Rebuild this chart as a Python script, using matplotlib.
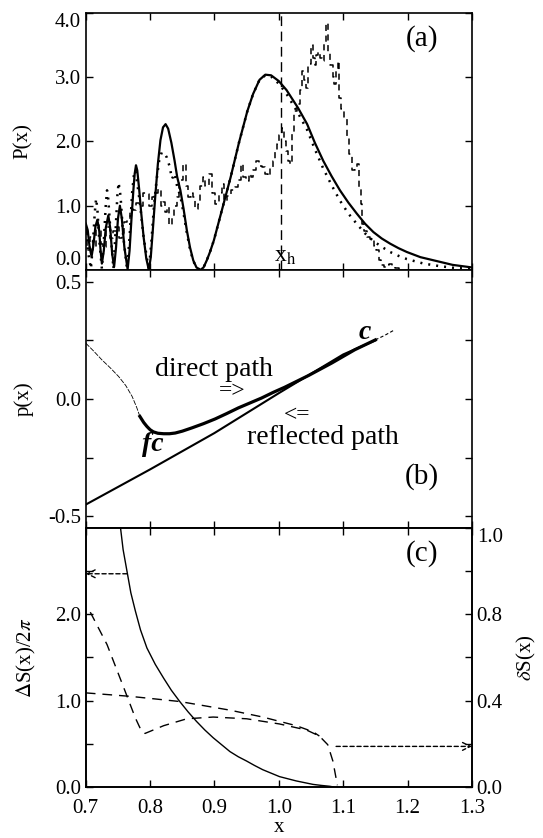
import matplotlib
matplotlib.use("Agg")
import matplotlib.pyplot as plt
from matplotlib.ticker import FixedLocator, FixedFormatter

plt.rcParams['font.family'] = ['Liberation Serif', 'DejaVu Serif']
plt.rcParams['mathtext.fontset'] = 'stix'
plt.rcParams['axes.unicode_minus'] = False

# ---- panel (a): P(x) ----
pa_solid_x = [0.700, 0.703, 0.706, 0.709, 0.712, 0.715, 0.718, 0.721, 0.723, 0.725,
              0.728, 0.731, 0.735, 0.738, 0.741, 0.744, 0.747, 0.750, 0.753, 0.756,
              0.760, 0.765, 0.768, 0.771, 0.774, 0.776, 0.778, 0.780, 0.783, 0.786,
              0.790, 0.794, 0.798, 0.801, 0.804, 0.808, 0.812, 0.816, 0.820, 0.824,
              0.828, 0.833, 0.838, 0.842, 0.847, 0.852, 0.857, 0.862, 0.867, 0.872,
              0.878, 0.883, 0.888, 0.893, 0.899, 0.912, 0.925, 0.938, 0.951, 0.960,
              0.970, 0.979, 0.988, 1.000, 1.012, 1.030, 1.044, 1.056, 1.069, 1.082,
              1.095, 1.108, 1.121, 1.134, 1.147, 1.160, 1.173, 1.186, 1.199, 1.220,
              1.245, 1.270, 1.300]
pa_solid_y = [0.72, 0.62, 0.35, 0.21, 0.40, 0.68, 0.78, 0.60, 0.30, 0.10,
              0.30, 0.65, 0.85, 0.65, 0.25, 0.05, 0.35, 0.80, 1.00, 0.80,
              0.35, 0.01, 0.30, 0.80, 1.25, 1.50, 1.63, 1.55, 1.25, 0.90,
              0.50, 0.18, 0.00, 0.20, 0.60, 1.15, 1.65, 2.02, 2.22, 2.27,
              2.20, 1.98, 1.70, 1.45, 1.24, 0.95, 0.62, 0.35, 0.15, 0.04,
              0.00, 0.04, 0.15, 0.28, 0.46, 0.95, 1.44, 1.98, 2.47, 2.74,
              2.96, 3.04, 3.03, 2.94, 2.80, 2.52, 2.27, 1.98, 1.70, 1.46,
              1.24, 1.05, 0.88, 0.72, 0.59, 0.49, 0.41, 0.34, 0.28, 0.20,
              0.14, 0.08, 0.04]

pa_dot_x = [0.700, 0.704, 0.708, 0.711, 0.714, 0.716, 0.718, 0.721, 0.725, 0.728,
            0.731, 0.733, 0.735, 0.739, 0.743, 0.746, 0.749, 0.751, 0.754, 0.758,
            0.764, 0.768, 0.772, 0.775, 0.777, 0.780, 0.784, 0.790, 0.798, 0.802,
            0.806, 0.810, 0.814, 0.818, 0.822, 0.826, 0.830, 0.834, 0.838, 0.842,
            0.847, 0.852, 0.857, 0.862, 0.867, 0.872, 0.878, 0.883, 0.888, 0.893,
            0.899, 0.912, 0.925, 0.938, 0.951, 0.960, 0.970, 0.979, 0.988, 1.000,
            1.012, 1.030, 1.044, 1.056, 1.069, 1.082, 1.095, 1.108, 1.121, 1.134,
            1.147, 1.160, 1.173, 1.186, 1.199, 1.225, 1.250, 1.275, 1.300]
pa_dot_y = [0.60, 0.25, 0.02, 0.40, 0.90, 1.11, 0.95, 0.45, 0.02, 0.45,
            1.00, 1.24, 1.10, 0.50, 0.02, 0.55, 1.15, 1.36, 1.15, 0.55,
            0.02, 0.50, 1.20, 1.50, 1.55, 1.35, 1.05, 0.50, 0.00, 0.45,
            1.00, 1.40, 1.70, 1.83, 1.82, 1.75, 1.62, 1.42, 1.50, 1.30,
            1.15, 0.88, 0.58, 0.32, 0.14, 0.04, 0.00, 0.04, 0.15, 0.28,
            0.46, 0.95, 1.44, 1.98, 2.47, 2.74, 2.96, 3.03, 3.01, 2.90,
            2.74, 2.44, 2.18, 1.88, 1.58, 1.32, 1.08, 0.88, 0.72, 0.57,
            0.45, 0.36, 0.28, 0.22, 0.17, 0.10, 0.06, 0.03, 0.02]

pa_hist_x = [0.700, 0.704, 0.709, 0.714, 0.718, 0.722, 0.726, 0.729, 0.735, 0.740,
             0.746, 0.750, 0.754, 0.758, 0.762, 0.766, 0.771, 0.776, 0.781, 0.786,
             0.791, 0.797, 0.801, 0.804, 0.809, 0.815, 0.818, 0.822, 0.825, 0.828,
             0.832, 0.835, 0.839, 0.843, 0.848, 0.853, 0.857, 0.861, 0.865, 0.868,
             0.872, 0.876, 0.880, 0.883, 0.888, 0.894, 0.899, 0.904, 0.909, 0.914,
             0.917, 0.922, 0.928, 0.935, 0.939, 0.943, 0.947, 0.951, 0.955, 0.958,
             0.962, 0.966, 0.971, 0.977, 0.981, 0.985, 0.989, 0.993, 0.996, 0.999,
             1.003, 1.007, 1.010, 1.013, 1.016, 1.018, 1.022, 1.026, 1.031, 1.035,
             1.038, 1.041, 1.044, 1.048, 1.051, 1.054, 1.057, 1.060, 1.062, 1.066,
             1.069, 1.072, 1.075, 1.078, 1.082, 1.085, 1.087, 1.090, 1.093, 1.095,
             1.099, 1.103, 1.108, 1.111, 1.116, 1.120, 1.124, 1.126, 1.129, 1.131,
             1.135, 1.139, 1.143, 1.147, 1.150, 1.153, 1.157, 1.161, 1.165, 1.169,
             1.173, 1.178, 1.183, 1.190]
pa_hist_y = [0.62, 0.31, 0.52, 0.36, 0.70, 0.62, 0.40, 0.36, 0.67, 0.50,
             0.60, 0.67, 0.50, 0.57, 0.75, 0.80, 0.95, 0.93, 1.05, 1.00,
             1.20, 1.19, 1.00, 1.13, 1.20, 1.26, 1.00, 1.06, 0.90, 0.98,
             0.70, 0.82, 1.00, 1.13, 1.40, 1.65, 1.30, 1.13, 1.20, 1.13,
             0.95, 1.03, 1.30, 1.44, 1.30, 1.49, 1.20, 1.03, 1.20, 1.34,
             1.08, 1.15, 1.25, 1.29, 1.40, 1.65, 1.45, 1.39, 1.50, 1.44,
             1.55, 1.70, 1.62, 1.60, 1.50, 1.47, 1.60, 1.70, 1.85, 1.96,
             2.10, 2.21, 2.00, 1.85, 1.70, 1.65, 2.11, 2.47, 2.58, 2.80,
             3.09, 2.95, 2.83, 3.20, 3.50, 3.30, 3.19, 3.35, 3.40, 3.30,
             3.25, 3.55, 3.85, 3.40, 3.19, 3.00, 2.89, 3.10, 3.25, 2.68,
             2.50, 2.37, 2.06, 1.80, 1.55, 1.60, 1.65, 1.29, 1.03, 0.72,
             0.60, 0.51, 0.48, 0.46, 0.38, 0.31, 0.15, 0.08, 0.05, 0.08,
             0.10, 0.05, 0.03, 0.00]

x_h = 1.004

# ---- panel (b): p(x) ----
pb_direct_thin_x = [0.700, 0.712, 0.725, 0.738, 0.751, 0.762, 0.772, 0.779, 0.784]
pb_direct_thin_y = [0.238, 0.205, 0.167, 0.133, 0.096, 0.058, 0.011, -0.035, -0.074]
pb_direct_x = [0.784, 0.790, 0.795, 0.800, 0.805, 0.812, 0.821, 0.830, 0.839, 0.850,
               0.865, 0.883, 0.901, 0.919, 0.937, 0.955, 0.973, 0.991, 1.009, 1.046,
               1.082, 1.118, 1.150]
pb_direct_y = [-0.074, -0.100, -0.117, -0.131, -0.140, -0.146, -0.148, -0.148, -0.145, -0.137,
               -0.123, -0.105, -0.085, -0.062, -0.038, -0.017, 0.004, 0.028, 0.050, 0.100,
               0.153, 0.210, 0.252]
pb_tip_x = [1.150, 1.165, 1.178]
pb_tip_y = [0.252, 0.272, 0.292]
pb_reflect_x = [0.700, 0.800, 0.900, 1.000, 1.100, 1.150]
pb_reflect_y = [-0.450, -0.300, -0.145, 0.025, 0.190, 0.250]

# ---- panel (c): Delta S / 2pi (left) and delta S (right) ----
pc_DS_x = [0.754, 0.758, 0.764, 0.770, 0.777, 0.785, 0.795, 0.808, 0.821, 0.833,
           0.846, 0.859, 0.872, 0.885, 0.898, 0.911, 0.924, 0.937, 0.950, 0.962,
           0.975, 0.988, 1.001, 1.014, 1.027, 1.040, 1.053, 1.066, 1.079, 1.085]
pc_DS_y = [3.00, 2.75, 2.50, 2.25, 2.04, 1.82, 1.61, 1.42, 1.26, 1.12,
           0.99, 0.87, 0.76, 0.66, 0.57, 0.49, 0.41, 0.35, 0.30, 0.25,
           0.20, 0.16, 0.12, 0.095, 0.07, 0.05, 0.03, 0.018, 0.008, 0.00]

pc_dSa_x = [0.707, 0.733, 0.759, 0.777, 0.787, 0.792, 0.821, 0.857, 0.898, 0.950,
            1.001, 1.043, 1.063, 1.076, 1.084, 1.091]
pc_dSa_y = [0.81, 0.66, 0.46, 0.32, 0.256, 0.248, 0.284, 0.316, 0.324, 0.316,
            0.292, 0.264, 0.236, 0.196, 0.12, 0.008]
pc_dSb_x = [0.700, 0.769, 0.846, 0.924, 0.975, 1.027, 1.053, 1.063]
pc_dSb_y = [0.436, 0.420, 0.396, 0.356, 0.324, 0.284, 0.256, 0.236]

arrow_left_x, arrow_left_y = 0.764, 2.47      # from solid curve to left axis
arrow_right_x, arrow_right_y = 1.089, 0.188   # from dashed curve to right axis

fig = plt.figure(figsize=(5.43, 8.38), dpi=100)
L, W = 0.158, 0.711
ax_a = fig.add_axes([L, 0.6778, W, 0.3067])
ax_b = fig.add_axes([L, 0.3699, W, 0.3079])
ax_c = fig.add_axes([L, 0.0609, W, 0.3090])

tick_fs = 15
for ax in (ax_a, ax_b, ax_c):
    ax.set_xlim(0.7, 1.3)
    ax.set_xticks([0.7, 0.8, 0.9, 1.0, 1.1, 1.2, 1.3])
    ax.tick_params(which='both', direction='in', length=5, width=1.0,
                   top=True, labelsize=tick_fs)
    ax.tick_params(axis='x', pad=9)
    for s in ax.spines.values():
        s.set_linewidth(1.2)

# (a)
ax_a.plot(pa_solid_x, pa_solid_y, color='black', lw=1.6)
ax_a.plot(pa_dot_x, pa_dot_y, color='black', lw=1.8, linestyle=(0, (0.8, 2.4)))
ax_a.plot(pa_hist_x, pa_hist_y, color='black', lw=1.1, drawstyle='steps-mid',
          linestyle=(0, (4, 3)))
ax_a.axvline(x_h, color='black', lw=1.0, linestyle=(0, (7, 4)))
ax_a.text(x_h - 0.012, 0.05, r'x$_\mathrm{h}$', fontsize=17, ha='left', va='bottom')
ax_a.set_ylim(0, 4.0)
ax_a.yaxis.set_major_locator(FixedLocator([0, 1, 2, 3, 4]))
ax_a.yaxis.set_major_formatter(FixedFormatter(['0.0', '1.0', '2.0', '3.0', '4.0']))
ax_a.tick_params(right=True, labelbottom=False)
ax_a.set_ylabel('P(x)', fontsize=15, labelpad=16)
ax_a.text(0.87, 0.9, '(a)', transform=ax_a.transAxes, fontsize=21, ha='center', va='center')
a_labels = ax_a.yaxis.get_majorticklabels()
a_labels[0].set_verticalalignment('bottom')
a_labels[-1].set_verticalalignment('top')

# (b)
ax_b.plot(pb_direct_thin_x, pb_direct_thin_y, color='black', lw=0.6, linestyle=(0, (6, 1.5)))
ax_b.plot(pb_direct_x, pb_direct_y, color='black', lw=2.3)
ax_b.plot(pb_tip_x, pb_tip_y, color='black', lw=0.8, linestyle=(0, (3, 2)))
ax_b.plot(pb_reflect_x, pb_reflect_y, color='black', lw=1.5)
ax_b.set_ylim(-0.55, 0.55)
ax_b.yaxis.set_major_locator(FixedLocator([-0.5, 0.0, 0.5]))
ax_b.yaxis.set_major_formatter(FixedFormatter(['-0.5', '0.0', '0.5']))
ax_b.yaxis.set_minor_locator(FixedLocator([-0.25, 0.25]))
ax_b.tick_params(which='both', right=True, labelbottom=False)
ax_b.set_ylabel('p(x)', fontsize=15, labelpad=10)
ax_b.text(0.899, 0.125, 'direct path', fontsize=20, ha='center', va='center')
ax_b.text(0.927, 0.030, '=>', fontsize=17, ha='center', va='center')
ax_b.text(1.028, -0.072, '<=', fontsize=17, ha='center', va='center')
ax_b.text(1.068, -0.165, 'reflected path', fontsize=20, ha='center', va='center')
ax_b.text(1.133, 0.285, 'c', fontsize=20, fontweight='bold', fontstyle='italic',
          ha='center', va='center')
ax_b.text(0.804, -0.195, 'fc', fontsize=20, fontweight='bold', fontstyle='italic',
          ha='center', va='center')
ax_b.text(0.87, 0.2, '(b)', transform=ax_b.transAxes, fontsize=21, ha='center', va='center')

# (c)
ax_c.plot(pc_DS_x, pc_DS_y, color='black', lw=1.0)
ax_c.set_ylim(0, 3.0)
ax_c.yaxis.set_major_locator(FixedLocator([0, 1, 2]))
ax_c.yaxis.set_major_formatter(FixedFormatter(['0.0', '1.0', '2.0']))
ax_c.yaxis.set_minor_locator(FixedLocator([0.5, 1.5, 2.5]))
ax_c.set_xticklabels(['0.7', '0.8', '0.9', '1.0', '1.1', '1.2', '1.3'])
ax_c.set_xlabel('x', fontsize=15, labelpad=0)
ax_c.set_ylabel(r'$\Delta$S(x)/2$\pi$', fontsize=15, labelpad=12)
ax_c.tick_params(which='both', right=False)
ax_c.annotate('', xy=(0.7, arrow_left_y), xytext=(arrow_left_x, arrow_left_y),
              arrowprops=dict(arrowstyle='->', color='black', lw=1.0,
                              linestyle=(0, (3, 2)), mutation_scale=14,
                              shrinkA=0, shrinkB=0))
ax_c.text(0.87, 0.9, '(c)', transform=ax_c.transAxes, fontsize=21, ha='center', va='center')

ax_r = ax_c.twinx()
ax_r.set_ylim(0, 1.2)
ax_r.plot(pc_dSa_x, pc_dSa_y, color='black', lw=1.0, linestyle=(0, (7, 5)))
ax_r.plot(pc_dSb_x, pc_dSb_y, color='black', lw=1.0, linestyle=(0, (7, 5)))
ax_r.yaxis.set_major_locator(FixedLocator([0.0, 0.4, 0.8, 1.2]))
ax_r.yaxis.set_major_formatter(FixedFormatter(['0.0', '0.4', '0.8', '1.0']))
ax_r.yaxis.set_minor_locator(FixedLocator([0.2, 0.6, 1.0]))
ax_r.tick_params(which='both', direction='in', length=5, width=1.0, labelsize=tick_fs)
ax_r.set_ylabel(r'$\delta$S(x)', fontsize=15, labelpad=9)
ax_r.annotate('', xy=(1.3, arrow_right_y), xytext=(arrow_right_x, arrow_right_y),
              arrowprops=dict(arrowstyle='->', color='black', lw=1.0,
                              linestyle=(0, (3, 2)), mutation_scale=14,
                              shrinkA=0, shrinkB=0))
r_labels = ax_r.yaxis.get_majorticklabels()
r_labels[-1].set_verticalalignment('top')
for s in ax_r.spines.values():
    s.set_linewidth(1.2)

fig.savefig('out.png', dpi=100)
